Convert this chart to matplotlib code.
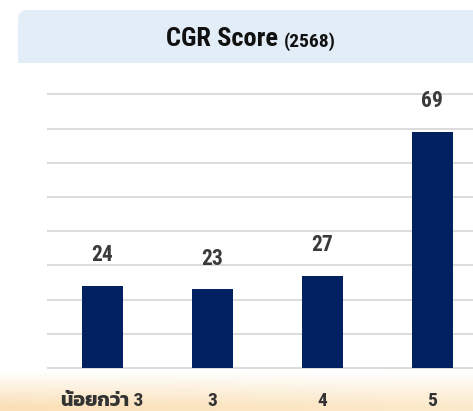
import matplotlib
matplotlib.use("Agg")
import matplotlib.pyplot as plt
import numpy as np
from matplotlib.patches import FancyBboxPatch, Rectangle

categories = ["น้อยกว่า 3", "3", "4", "5"]
values = [24, 23, 27, 69]
yticks = [0, 10, 20, 30, 40, 50, 60, 70, 80]
title_main = "CGR Score"
title_year = "(2568)"

FONT = ["Roboto Condensed", "Noto Sans Thai", "DejaVu Sans"]
FONT_TICK = ["Roboto Condensed", "Kanit", "Noto Sans Thai", "DejaVu Sans"]
W, H = 473, 411
fig = plt.figure(figsize=(W / 100, H / 100), dpi=100)
fig.patch.set_facecolor("white")

# bottom gradient band
bg = fig.add_axes([0, 0, 1, 1], zorder=-5)
bg.set_axis_off()
grad_start = 371
g = np.ones((H, W, 3))
bot_l = np.array([0xfa, 0xe0, 0xb8]) / 255
bot_r = np.array([0xfc, 0xea, 0xcc]) / 255
xs = np.linspace(0, 1, W)[:, None]
bot = bot_l * (1 - xs) + bot_r * xs
for i in range(grad_start, H):
    t = (i - grad_start) / (H - grad_start)
    t = min(1.0, t * 1.15)
    g[i] = (1 - t) + bot * t
bg.imshow(g, aspect="auto", extent=[0, 1, 0, 1], origin="upper")
bg.set_xlim(0, 1)
bg.set_ylim(0, 1)

# title box: rounded top-left, square bottom
box_col = "#e3edf8"
box = FancyBboxPatch((18 / W, (H - 63) / H), 480 / W, 53 / H,
                     boxstyle="round,pad=0,rounding_size=0.02",
                     transform=fig.transFigure, facecolor=box_col,
                     edgecolor="none", zorder=1, mutation_aspect=W / H)
fig.patches.append(box)
fig.patches.append(Rectangle((18 / W, (H - 63) / H), 480 / W, 30 / H,
                             transform=fig.transFigure, facecolor=box_col,
                             edgecolor="none", zorder=1))

t1 = fig.text(166 / W, (H - 46.5) / H, title_main, ha="left", va="baseline",
              fontsize=19, fontweight="bold", family=FONT, color="#111111")
fig.canvas.draw()
bb = t1.get_window_extent()
fig.text((bb.x1 + 6) / W, (H - 46.5) / H, title_year, ha="left", va="baseline",
         fontsize=14, fontweight="bold", family=FONT, color="#111111")

# main axes
px_per_unit = 3.42
ax_bottom = (H - 368 - 0.5 * px_per_unit) / H
ax_height = (81 * px_per_unit) / H
ax = fig.add_axes([47 / W, ax_bottom, 1 - 47 / W, ax_height])
ax.patch.set_alpha(0)
x = np.arange(len(categories))
bars = ax.bar(x, values, width=0.373, color="#022160", zorder=3)
ax.set_xlim(-0.5, 3.37)
ax.set_ylim(-0.5, 80.5)
ax.set_yticks(yticks)
ax.yaxis.grid(True, color="#d9d9d9", linewidth=1.3, zorder=0)
ax.tick_params(axis="y", left=False, labelleft=False, length=0)
ax.tick_params(axis="x", bottom=False, length=0, pad=29.0)
for s in ax.spines.values():
    s.set_visible(False)
ax.set_xticks(x)
ax.set_xticklabels(categories, fontsize=14, fontweight="bold", family=FONT_TICK,
                   color="#333333")
for lab in ax.get_xticklabels():
    lab.set_va("bottom")

for xi, v in zip(x, values):
    ax.annotate(str(v), (xi, v), xytext=(0, 22), textcoords="offset points",
                ha="center", va="center", fontsize=15.5, fontweight="bold",
                family=FONT, color="#3a3a3a", zorder=4, clip_on=False)

fig.savefig("out.png", dpi=100, facecolor="white")
